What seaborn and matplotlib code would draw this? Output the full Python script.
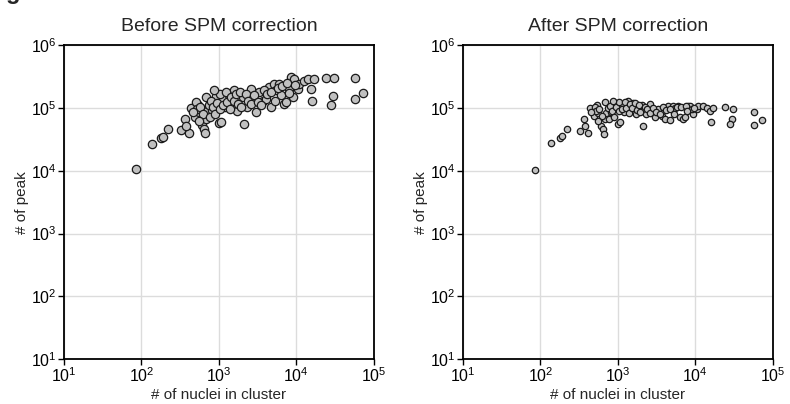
import numpy as np
import pandas as pd
import seaborn as sns
import matplotlib
matplotlib.use('Agg')
import matplotlib.pyplot as plt
from matplotlib.ticker import LogLocator, NullLocator

# cells per cluster (shared by both panels)
nuclei = [86, 139, 178, 188, 221, 324, 413, 363, 372, 435, 494, 546, 557, 603, 646,
          665, 676, 692, 713, 828, 912, 1000, 1072, 1122, 1202, 1349, 1514, 1585, 1738,
          2138, 2042, 2344, 2570, 2723, 3020, 3311, 3673, 4074, 4467, 4677, 5188, 5495,
          6026, 6310, 7000, 7413, 8128, 8511, 9333, 9120, 10470, 10960, 12590, 14130,
          15490, 15850, 16980, 24550, 30900, 29510, 28180, 57540, 56890, 72440,
          501, 525, 575, 617, 741, 759, 794, 851, 891, 955, 1023, 1047, 1148, 1230, 1288,
          1380, 1445, 1549, 1660, 1778, 1862, 1950, 2239, 2399, 2630, 2884, 3162, 3467,
          3802, 4169, 4786, 5248, 5754, 6607, 7586, 7943, 9772, 457, 550, 871]

peaks_before = [10600, 26900, 33100, 35100, 46800, 44100, 39500, 67600, 51300, 100000,
                72400, 112200, 86500, 53700, 45700, 39500, 147900, 67600, 88700, 91800,
                154900, 56800, 58900, 140300, 103800, 158500, 117500, 190500, 91200, 55000,
                147900, 103800, 199500, 147900, 87100, 177800, 131800, 140300, 213800,
                103800, 239900, 190500, 239900, 158500, 117500, 125900, 199500, 309000,
                288400, 147900, 204200, 239900, 269200, 288400, 204200, 131800, 288400,
                302000, 302000, 154900, 112200, 302000, 140300, 173800,
                125900, 95500, 104700, 79400, 112200, 70800, 131800, 104700, 79400, 120200,
                166000, 95500, 112200, 177800, 125900, 95500, 151400, 131800, 166000,
                114800, 177800, 104700, 166000, 131800, 114800, 158500, 125900, 112200,
                190500, 166000, 177800, 131800, 208900, 223900, 251200, 173800, 229100,
                85100, 63100, 190500]

peaks_after = [10200, 27900, 33100, 36300, 46200, 43700, 39800, 67600, 51300, 100000,
               74100, 112200, 83200, 51300, 45700, 38900, 123000, 67600, 83200, 85100,
               120200, 55000, 60300, 97700, 87100, 131800, 104700, 120200, 79400, 51300,
               112200, 81300, 114800, 87100, 70800, 97700, 75900, 67600, 107200, 64600,
               109600, 100000, 109600, 72400, 67600, 72400, 109600, 109600, 79400, 97700,
               97700, 107200, 107200, 100000, 89100, 60300, 100000, 104700, 97700, 66100,
               56200, 85100, 53700, 64600,
               104700, 89100, 95500, 75900, 100000, 66100, 109600, 91200, 72400, 104700,
               125900, 89100, 95500, 125900, 100000, 83200, 114800, 100000, 120200, 93300,
               112200, 85100, 104700, 95500, 83200, 100000, 87100, 79400, 104700, 93300,
               95500, 79400, 104700, 104700, 107200, 89100, 100000, 85100, 61700, 131800]

titles = ['Before SPM correction', 'After SPM correction']

df = pd.DataFrame({'nuclei': nuclei, 'before': peaks_before, 'after': peaks_after})

sns.set_theme(style='ticks')
plt.rcParams.update({'font.family': ['Liberation Sans', 'DejaVu Sans'],
                     'mathtext.fontset': 'custom',
                     'mathtext.rm': 'Liberation Sans',
                     'mathtext.it': 'Liberation Sans:italic',
                     'mathtext.bf': 'Liberation Sans:bold',
                     'axes.edgecolor': 'black',
                     'axes.linewidth': 1.3,
                     'xtick.color': 'black',
                     'ytick.color': 'black'})

fig = plt.figure(figsize=(7.9, 4.04), dpi=100)
ax1 = fig.add_axes([0.081, 0.111, 0.392, 0.777])
ax2 = fig.add_axes([0.586, 0.111, 0.392, 0.777])

for ax, col, title, size in [(ax1, 'before', titles[0], 36), (ax2, 'after', titles[1], 21)]:
    sns.scatterplot(data=df, x='nuclei', y=col, ax=ax, s=size, color='#c0c0c0',
                    edgecolor='#1a1a1a', linewidth=0.9, zorder=3)
    ax.set_xscale('log')
    ax.set_yscale('log')
    ax.set_xlim(10, 1e5)
    ax.set_ylim(10, 1e6)
    ax.xaxis.set_major_locator(LogLocator(base=10, numticks=10))
    ax.yaxis.set_major_locator(LogLocator(base=10, numticks=10))
    ax.xaxis.set_minor_locator(NullLocator())
    ax.yaxis.set_minor_locator(NullLocator())
    ax.grid(True, which='major', color='#dcdcdc', linewidth=1.0, zorder=0)
    ax.set_axisbelow(True)
    ax.tick_params(axis='both', labelsize=11.5, length=4, width=1, pad=1)
    ax.set_xlabel('# of nuclei in cluster', fontsize=11, labelpad=2)
    ax.set_ylabel('# of peak', fontsize=11)
    ax.yaxis.set_label_coords(-0.112, 0.5)
    ax.set_title(title, fontsize=14, pad=10)

fig.text(0.008, 1.003, 'g', fontsize=17, fontweight='bold', va='baseline')

plt.savefig('out.png', dpi=100)
